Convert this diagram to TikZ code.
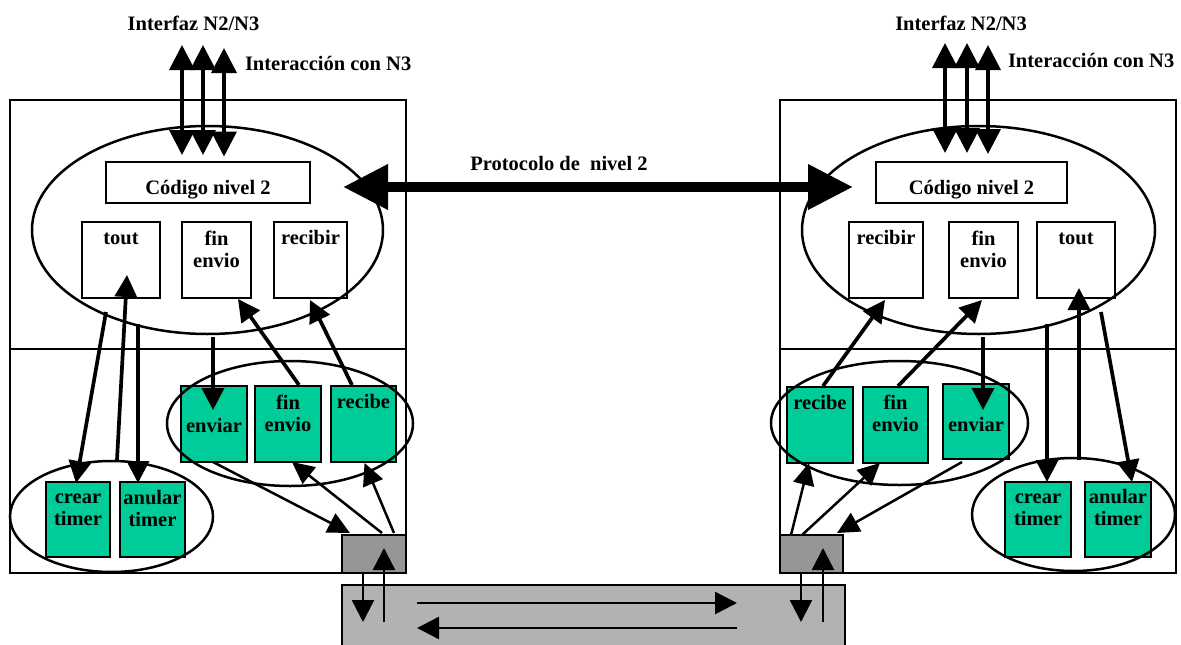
\documentclass[tikz,border=0pt]{standalone}
\usepackage{fontspec}
\setmainfont{Liberation Serif}
\usetikzlibrary{arrows.meta,shapes.geometric,fit,calc}
\definecolor{layergreen}{RGB}{0,204,153}
\definecolor{physgray}{RGB}{150,150,150}
\definecolor{linkgray}{RGB}{178,178,178}

\begin{document}
\begin{tikzpicture}[x=1pt,y=-1pt,
  every node/.style={inner sep=0pt,outer sep=0pt},
  txt/.style={font=\fontsize{20.5}{22}\selectfont\bfseries},
  boxtext/.style={txt,anchor=north,yshift=15.4pt,align=center},
  freetext/.style={txt,anchor=base},
  layerframe/.style={draw,line width=2.2pt},
  codebox/.style={draw,line width=2.6pt,fill=white},
  prim/.style={draw,line width=2.6pt,fill=layergreen},
  grp/.style={draw,ellipse,line width=2.5pt},
  phys/.style={draw,line width=2.2pt,fill=physgray},
  n3/.style={line width=3.6pt,{Triangle[length=25pt,width=25pt]}-{Triangle[length=25pt,width=25pt]}},
  flow/.style={line width=3.7pt,-{Triangle[length=22pt,width=22pt]}},
  hop/.style={line width=2.5pt,-{Triangle[length=22pt,width=21pt]}},
  wire/.style={line width=2.5pt,-{Triangle[length=22pt,width=22pt]}},
  peer/.style={line width=10pt,{Triangle[length=45pt,width=43pt]}-{Triangle[length=45pt,width=43pt]}},
]
\useasboundingbox (0,0) rectangle (1181,645);

% ---------- frames of both stations ----------
\node[layerframe, fit={(10,100) (406,573)}] (frameL) {};
\draw[line width=2.2pt] ([yshift=-249pt]frameL.north west) -- ([yshift=-249pt]frameL.north east);
\node[layerframe, fit={(780,100) (1176,573)}] (frameR) {};
\draw[line width=2.2pt] ([yshift=-249pt]frameR.north west) -- ([yshift=-249pt]frameR.north east);

% ---------- physical link ----------
\node[fill=linkgray, fit={(342,585) (845,645)}] (bar) {};
\draw[line width=2.2pt] (bar.south west) -- (bar.north west) -- (bar.north east) -- (bar.south east);
\node[phys, fit={(342,535) (406,573)}] (physL) {};
\node[phys, fit={(780,535) (843,573)}] (physR) {};

% ---------- left station boxes ----------
\node[codebox, fit={(106,162) (310,203)}] (codL) {};
\node[codebox, fit={(82,222) (160,298)}] (toutL) {};
\node[codebox, fit={(182,222) (251,298)}] (finL) {};
\node[codebox, fit={(274,222) (347,298)}] (recL) {};
\node[prim, fit={(181,386) (247,462)}] (envGL) {};
\node[prim, fit={(255,386) (321,462)}] (finGL) {};
\node[prim, fit={(331,386) (396,462)}] (recGL) {};
\node[prim, fit={(46,482) (110,557)}] (crearL) {};
\node[prim, fit={(120,482) (185,557)}] (anularL) {};

% ---------- right station boxes ----------
\node[codebox, fit={(876,162) (1067,203)}] (codR) {};
\node[codebox, fit={(849,222) (923,298)}] (recR) {};
\node[codebox, fit={(949,222) (1018,298)}] (finR) {};
\node[codebox, fit={(1037,222) (1115,298)}] (toutR) {};
\node[prim, fit={(787,387) (853,463)}] (recGR) {};
\node[prim, fit={(863,387) (928,463)}] (finGR) {};
\node[prim, fit={(943,384) (1009,459)}] (envGR) {};
\node[prim, fit={(1005,482) (1071,557)}] (crearR) {};
\node[prim, fit={(1085,482) (1151,557)}] (anularR) {};

% ---------- groupings ----------
\node[grp, minimum width=351pt, minimum height=208pt] (ellUL) at (207.5,230) {};
\node[grp, minimum width=246pt, minimum height=125pt] (ellML) at (290,423.5) {};
\node[grp, minimum width=203pt, minimum height=111pt] (ellTL) at (111.5,516.5) {};
\node[grp, minimum width=353pt, minimum height=208pt] (ellUR) at (978.5,230) {};
\node[grp, minimum width=257pt, minimum height=124pt] (ellMR) at (899.5,423) {};
\node[grp, minimum width=203pt, minimum height=113pt] (ellTR) at (1073.5,514.5) {};

% ---------- interface with level 3 ----------
\coordinate (ifL1) at (182,45);
\coordinate (ifL2) at (203,45);
\coordinate (ifL3) at (224,48);
\coordinate (ifR1) at (945,43);
\coordinate (ifR2) at (967,43);
\coordinate (ifR3) at (988,45);
\draw[n3] (ifL1) -- ([xshift=76pt,yshift=7pt]codL.north west);
\draw[n3] (ifL2) -- ([xshift=97pt,yshift=7pt]codL.north west);
\draw[n3] (ifL3) -- ([xshift=118pt,yshift=5.5pt]codL.north west);
\draw[n3] (ifR1) -- ([xshift=69pt,yshift=9pt]codR.north west);
\draw[n3] (ifR2) -- ([xshift=91pt,yshift=9pt]codR.north west);
\draw[n3] (ifR3) -- ([xshift=112pt,yshift=8pt]codR.north west);

% ---------- peer protocol ----------
\draw[peer] ([xshift=33pt,yshift=-4.5pt]codL.east) -- ([xshift=-23pt,yshift=-4.5pt]codR.west);

% ---------- left station connectors ----------
\draw[flow] ([xshift=-15pt,yshift=-14pt]toutL.south) -- ([xshift=-2pt,yshift=-1pt]crearL.north);
\draw[flow] ([xshift=-3pt,yshift=22pt]anularL.north west) -- ([xshift=6pt,yshift=23pt]toutL.south);
\draw[flow] ([xshift=-22pt,yshift=-26pt]toutL.south east) -- ([xshift=-14.5pt,yshift=-1pt]anularL.north);
\draw[flow] ([xshift=5.5pt,yshift=-3pt]ellUL.south) -- ([xshift=-1pt,yshift=-24pt]envGL.north);
\draw[flow] ([xshift=11pt,yshift=1pt]finGL.north) -- ([xshift=21.5pt,yshift=-1pt]finL.south);
\draw[flow] ([xshift=-11.5pt,yshift=1pt]recGL.north) -- ([xshift=-0.5pt,yshift=-2pt]recL.south);
\draw[hop] ([xshift=-1pt]envGL.south) -- ([xshift=8pt,yshift=2pt]physL.north west);
\draw[hop] ([xshift=8pt,yshift=2pt]physL.north) -- ([xshift=4pt]finGL.south);
\draw[hop] ([xshift=-12pt,yshift=2pt]physL.north east) -- ([xshift=1pt,yshift=-1pt]recGL.south);
\draw[wire] ([xshift=21pt]physL.south west) -- ([xshift=21pt,yshift=-37pt]bar.north west);
\draw[wire] ([xshift=42pt,yshift=-37pt]bar.north west) -- ([xshift=42pt,yshift=25pt]physL.south west);

% ---------- transmission medium ----------
\draw[wire] ([xshift=75pt,yshift=-18pt]bar.north west) -- ([xshift=395pt,yshift=-18pt]bar.north west);
\draw[wire] ([xshift=395pt,yshift=-43pt]bar.north west) -- ([xshift=75pt,yshift=-43pt]bar.north west);

% ---------- right station connectors ----------
\draw[flow] ([xshift=3pt,yshift=1pt]recGR.north) -- ([xshift=-1pt,yshift=-2pt]recR.south);
\draw[flow] ([xshift=2.5pt,yshift=1pt]finGR.north) -- ([xshift=-1.5pt,yshift=-2pt]finR.south);
\draw[flow] ([xshift=4.5pt,yshift=-3pt]ellUR.south) -- ([xshift=7pt,yshift=-26pt]envGR.north);
\draw[flow] ([xshift=10pt,yshift=-26pt]toutR.south west) -- ([xshift=9pt]crearR.north);
\draw[flow] ([xshift=-6pt,yshift=22pt]anularR.north west) -- ([xshift=3pt,yshift=10pt]toutR.south);
\draw[flow] ([xshift=-14pt,yshift=-14pt]toutR.south east) -- ([xshift=14pt]anularR.north);
\draw[hop] ([xshift=11pt]physR.north west) -- ([xshift=-11pt]recGR.south);
\draw[hop] ([xshift=22pt]physR.north west) -- ([xshift=-15.5pt]finGR.south);
\draw[hop] ([xshift=-14pt,yshift=-3pt]envGR.south) -- ([xshift=-6pt,yshift=2pt]physR.north east);
\draw[wire] ([xshift=21pt]physR.south west) -- ([xshift=-44pt,yshift=-37pt]bar.north east);
\draw[wire] ([xshift=-22pt,yshift=-37pt]bar.north east) -- ([xshift=43pt,yshift=25pt]physR.south west);

% ---------- labels ----------
\node[freetext] (tIfL) at (193.5,30) {Interfaz N2/N3};
\node[freetext,anchor=base west] (tN3L) at (245,70) {Interacción con N3};
\node[freetext] (tIfR) at (961,30) {Interfaz N2/N3};
\node[freetext,anchor=base west] (tN3R) at (1008,67) {Interacción con N3};
\node[freetext] (tPeer) at (559,170) {Protocolo de~ nivel 2};

\node[freetext] (tCodL) at (208,194) {Código nivel 2};
\node[boxtext] (tToutL) at (121,244) {\strut tout};
\node[boxtext] (tFinL) at (216.5,245) {\strut fin\\envio};
\node[boxtext] (tRecL) at (310.5,244) {\strut recibir};
\node[boxtext] (tEnvGL) at (214,432) {\strut enviar};
\node[boxtext] (tFinGL) at (288,409) {\strut fin\\envio};
\node[boxtext] (tRecGL) at (363.5,408) {\strut recibe};
\node[boxtext] (tCrearL) at (78,503) {\strut crear\\timer};
\node[boxtext] (tAnularL) at (152.5,504) {\strut anular\\timer};

\node[freetext] (tCodR) at (971.5,194) {Código nivel 2};
\node[boxtext] (tRecR) at (886,244) {\strut recibir};
\node[boxtext] (tFinR) at (983.5,245) {\strut fin\\envio};
\node[boxtext] (tToutR) at (1076,244) {\strut tout};
\node[boxtext] (tRecGR) at (820,409) {\strut recibe};
\node[boxtext] (tFinGR) at (895.5,409) {\strut fin\\envio};
\node[boxtext] (tEnvGR) at (976,431) {\strut enviar};
\node[boxtext] (tCrearR) at (1038,503) {\strut crear\\timer};
\node[boxtext] (tAnularR) at (1118,503) {\strut anular\\timer};
\end{tikzpicture}
\end{document}
